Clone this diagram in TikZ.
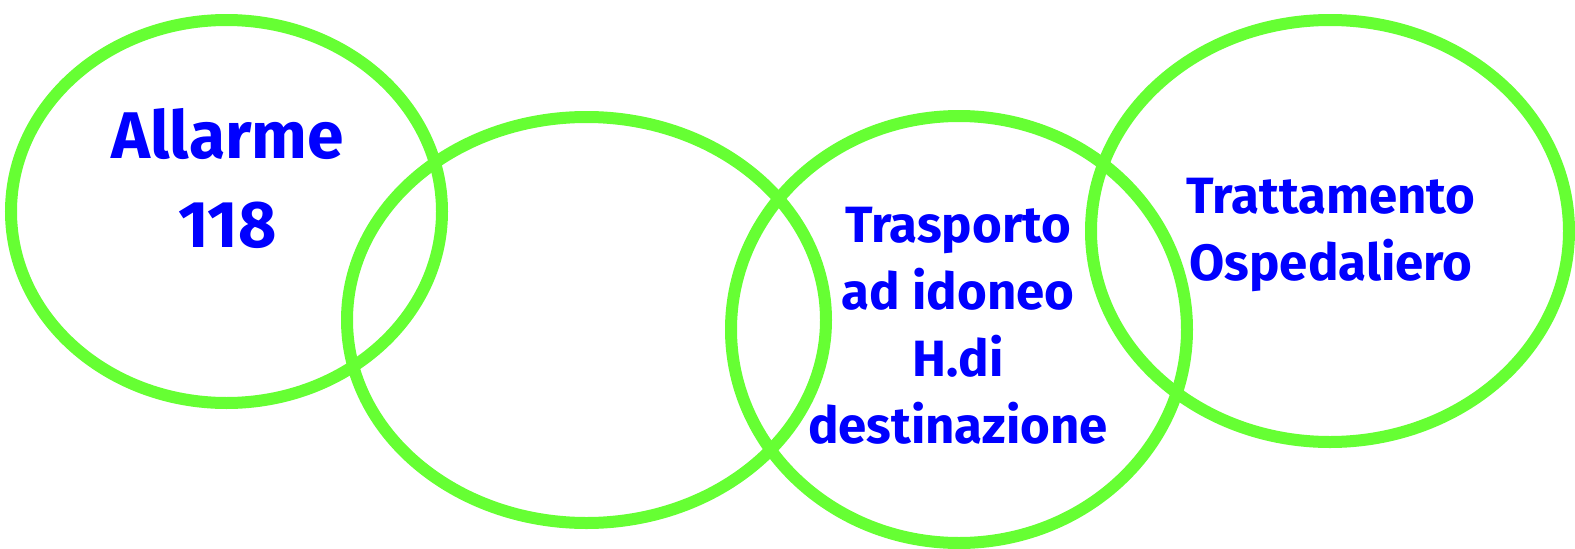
\documentclass[tikz,border=0pt]{standalone}
\usepackage{fontspec}
\newfontfamily\ringfont{Fira Sans}
\definecolor{ringgreen}{HTML}{66FF33}
\definecolor{labelblue}{HTML}{0000FF}
\begin{document}
\begin{tikzpicture}[x=1pt,y=-1pt,
    ring/.style={draw=ringgreen, line width=12pt},
    biglabel/.style={text=labelblue, align=center, inner sep=0pt, anchor=base,
        font=\ringfont\bfseries\fontsize{66}{89}\selectfont},
    steplabel/.style={text=labelblue, align=center, inner sep=0pt, anchor=base,
        font=\ringfont\bfseries\fontsize{51}{67}\selectfont}]
        % Margini della figura
        \useasboundingbox (0,0) rectangle (1575,549);

        % Disegna i quattro anelli
        \draw[ring] (226.5,211.5) ellipse [x radius=215.5, y radius=191.5]; % Allarme
        \draw[ring] (586.5,320) ellipse [x radius=239.5, y radius=203];    % vuoto
        \draw[ring] (959,329.5) ellipse [x radius=228, y radius=213.5];     % Trasporto
        \draw[ring] (1330,231) ellipse [x radius=239, y radius=211];        % Trattamento

        % Testi (base = linea di base dell'ultima riga)
        \node[biglabel] (allarme) at (227.5,247) {Allarme\\118};
        \node[steplabel] (trasporto) at (958,443) {Trasporto\\ad idoneo\\H.di\\destinazione};
        \node[steplabel] (trattamento) at (1331,280) {Trattamento\\Ospedaliero};
    \end{tikzpicture}
\end{document}
